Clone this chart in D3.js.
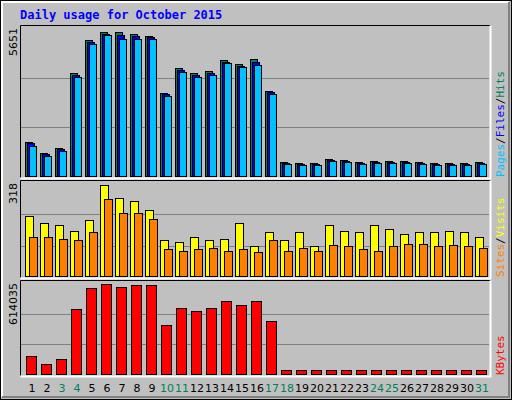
<!DOCTYPE html>
<html><head><meta charset="utf-8">
<script src="https://cdn.jsdelivr.net/npm/d3@7"></script>
<style>body{margin:0;background:#fff}svg{display:block}</style>
</head><body><svg></svg>
<script>
// daily values
var days = d3.range(1, 32);
var weekend = [3, 4, 10, 11, 17, 18, 24, 25, 31];
var hits = [1338, 892, 1115, 3941, 5205, 5502, 5502, 5428, 5354, 3197, 4127, 3941, 4015, 4424, 4275, 4461, 3272,
  558, 520, 520, 669, 632, 558, 595, 595, 595, 558, 520, 520, 520, 558];
var files = [1300, 860, 1080, 3880, 5110, 5440, 5380, 5360, 5300, 3150, 4060, 3880, 3950, 4380, 4220, 4380, 3220,
  530, 490, 490, 640, 600, 530, 565, 565, 565, 530, 490, 490, 490, 530];
var pages = [1180, 800, 1000, 3800, 5040, 5400, 5230, 5220, 5220, 3080, 3990, 3800, 3880, 4320, 4180, 4230, 3160,
  500, 470, 460, 600, 570, 500, 540, 540, 540, 500, 470, 460, 470, 510];
var visits = [207, 181, 177, 154, 194, 311, 268, 258, 228, 124, 120, 134, 124, 130, 181, 104, 151,
  124, 151, 104, 177, 157, 151, 177, 161, 144, 151, 151, 157, 151, 134];
var sites = [137, 134, 130, 124, 151, 264, 218, 218, 197, 94, 87, 94, 97, 87, 94, 84, 124,
  87, 97, 87, 107, 104, 94, 87, 104, 110, 110, 104, 107, 104, 97];
var kbytes = [126800, 73400, 106800, 440500, 580700, 607400, 587300, 600700, 600700, 333700, 447200, 427200, 447200,
  493900, 467200, 493900, 360400, 33000, 32000, 34000, 33500, 31000, 36000, 35000, 33000, 34000, 32000, 33000,
  35000, 34000, 33000];

var svg = d3.select("svg").attr("width", 512).attr("height", 400)
  .style("font-family", "'DejaVu Sans Mono', monospace");

// frame
svg.append("rect").attr("width", 512).attr("height", 400).attr("fill", "#c0c0c0");
svg.append("rect").attr("x", 0.5).attr("y", 0.5).attr("width", 511).attr("height", 399)
  .attr("fill", "none").attr("stroke", "#000");
svg.append("path").attr("d", "M2,397V2H509").attr("fill", "none").attr("stroke", "#fff").attr("stroke-width", 2);
svg.append("path").attr("d", "M2,397H509V2").attr("fill", "none").attr("stroke", "#808080").attr("stroke-width", 2);

svg.append("text").attr("x", 20).attr("y", 19).attr("fill", "#0000ff")
  .style("font-size", "12px").style("font-weight", "bold").text("Daily usage for October 2015");

var x = d3.scaleLinear().domain([1, 31]).range([25, 475]);

function panel(top, bottom, max, label) {
  svg.append("rect").attr("x", 20).attr("y", top).attr("width", 470).attr("height", bottom - top)
    .attr("fill", "#c0c0c0");
  var y = d3.scaleLinear().domain([0, max]).range([bottom, top + 3]);
  [1 / 3, 2 / 3].forEach(function (f) {
    svg.append("line").attr("x1", 21).attr("x2", 489)
      .attr("y1", Math.round(y(max * f)) + 0.5).attr("y2", Math.round(y(max * f)) + 0.5)
      .attr("stroke", "#808080");
  });
  svg.append("path").attr("d", "M20.5," + (bottom + 0.5) + "V" + (top + 0.5) + "H490.5")
    .attr("fill", "none").attr("stroke", "#000");
  svg.append("path").attr("d", "M20.5," + (bottom + 1.5) + "H490.5V" + (top + 0.5))
    .attr("fill", "none").attr("stroke", "#fff").attr("stroke-width", 2);
  svg.append("text").attr("transform", "translate(17," + (top + 3) + ") rotate(-90)")
    .attr("text-anchor", "end").style("font-size", "11px").style("font-family", "'DejaVu Sans', sans-serif")
    .attr("fill", "#000").text(label);
  return y;
}

function bars(data, y, off, w, color) {
  svg.append("g").selectAll("rect").data(data).enter().append("rect")
    .attr("x", function (d, i) { return x(days[i]) + off + 0.5; })
    .attr("y", function (d) { return Math.round(y(d)) + 0.5; })
    .attr("width", w)
    .attr("height", function (d) { return y.range()[0] - Math.round(y(d)) - 1; })
    .attr("fill", color).attr("stroke", "#000");
}

var y1 = panel(25, 177, 5651, "5651");
bars(hits, y1, 0, 7, "#00805c");
bars(files, y1, 2, 7, "#0000ff");
bars(pages, y1, 4, 7, "#00c0ff");

var y2 = panel(180, 277, 318, "318");
bars(visits, y2, 0, 8, "#ffff00");
bars(sites, y2, 4, 8, "#ff8000");

var y3 = panel(280, 375, 614035, "614035");
bars(kbytes, y3, 1, 10, "#ff0000");

// day labels
svg.append("g").selectAll("text").data(days).enter().append("text")
  .attr("x", function (d) { return x(d) + 7; }).attr("y", 392).attr("text-anchor", "middle")
  .style("font-size", "11px").style("font-family", "'DejaVu Sans', sans-serif")
  .attr("fill", function (d) { return weekend.indexOf(d) >= 0 ? "#00805c" : "#000"; })
  .text(function (d) { return d; });

// right legends
function legend(yBottom, parts) {
  var t = svg.append("text").attr("transform", "translate(504," + yBottom + ") rotate(-90)")
    .style("font-size", "11px");
  parts.forEach(function (p) { t.append("tspan").attr("fill", p[1]).text(p[0]); });
}
legend(177, [["Pages", "#00c0ff"], ["/", "#000"], ["Files", "#0000ff"], ["/", "#000"], ["Hits", "#00805c"]]);
legend(277, [["Sites", "#ff8000"], ["/", "#000"], ["Visits", "#ffff00"]]);
legend(375, [["KBytes", "#ff0000"]]);
</script></body></html>
